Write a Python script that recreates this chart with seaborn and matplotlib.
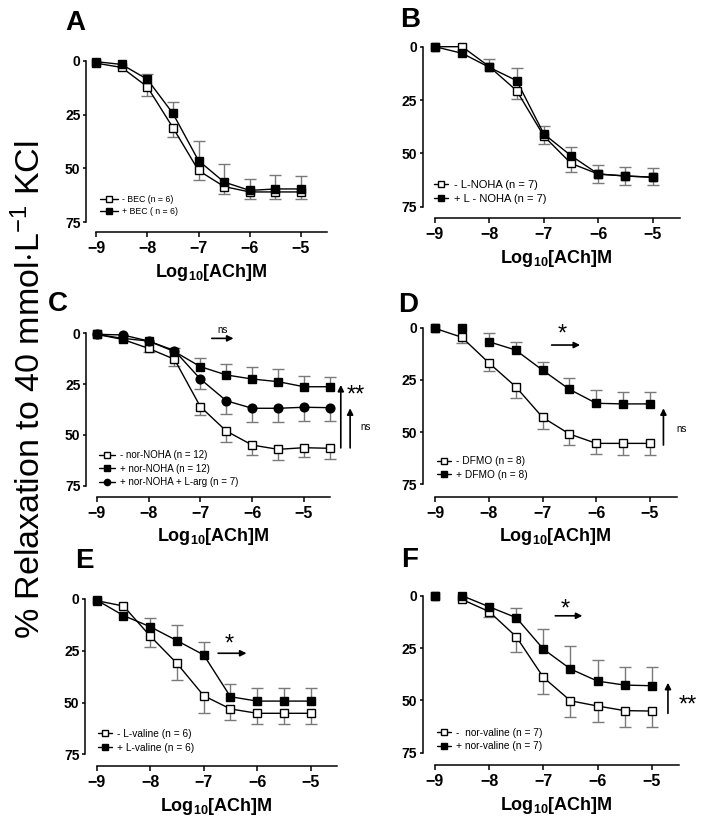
import matplotlib
matplotlib.use("Agg")
import matplotlib.pyplot as plt
from matplotlib.lines import Line2D
import numpy as np
import seaborn as sns

# log10 [ACh] (M)
conc = [-9, -8.5, -8, -7.5, -7, -6.5, -6, -5.5, -5]
conc_c = [-9, -8.5, -8, -7.5, -7, -6.5, -6, -5.5, -5, -4.5]

# panel A
a_ctrl = [1, 3, 12, 31, 51, 58.5, 61, 61, 61]
a_ctrl_sem = [0, 0, 4.5, 4.3, 4.6, 3.5, 3.5, 3.1, 3.1]
a_bec = [0.3, 1.6, 8.5, 24.4, 46.4, 56.4, 60.3, 59.6, 59.6]
a_bec_sem = [0, 0, 2.5, 5.4, 9.3, 8.3, 5.3, 6.4, 6.1]

# panel B
b_ctrl = [0, 0, 9.4, 20.6, 41.9, 54.7, 59.7, 60.6, 61.2]
b_ctrl_sem = [0, 0, 0, 4, 3.7, 4, 4, 4, 3.6]
b_noha = [0, 3.1, 9.7, 15.9, 40.9, 51.1, 59.7, 60.6, 61.2]
b_noha_sem = [0, 0, 4.1, 6.1, 3.7, 4.2, 4.4, 4.3, 4.5]

# panel C
c_ctrl = [0.5, 3, 7.4, 12.8, 36.1, 48.1, 55, 57.1, 56.3, 56.6]
c_ctrl_sem = [0, 0, 2, 3.3, 4.1, 5.2, 4.9, 5.3, 4.4, 5.3]
c_nor = [0.5, 2.5, 3.8, 9, 16.4, 20.5, 22.5, 23.8, 26.3, 26.3]
c_nor_sem = [0, 0, 0, 2, 4.1, 5.2, 5.8, 6.1, 5.5, 5]
c_larg = [0.5, 0.8, 3.8, 8.5, 22.5, 33.2, 36.9, 36.9, 36.4, 36.6]
c_larg_sem = [0, 0, 0, 0, 5.1, 6.5, 6.9, 6.9, 6.7, 6.5]

# panel D
d_ctrl = [0.3, 4.6, 16.8, 28.2, 42.9, 50.9, 55.4, 55.4, 55.4]
d_ctrl_sem = [0, 2.9, 3.8, 5.6, 5.7, 5.2, 5.1, 5.6, 5.6]
d_dfmo = [0, 0, 6.7, 10.7, 20.3, 29.5, 36.2, 36.5, 36.5]
d_dfmo_sem = [0, 0, 4, 4, 4, 5.2, 6.4, 5.9, 5.9]

# panel E
e_ctrl = [0.8, 3.4, 17.9, 31.1, 46.7, 53.1, 55.2, 55.2, 55.2]
e_ctrl_sem = [0, 0, 5.4, 8, 8.2, 5.3, 5.2, 5.2, 5.2]
e_val = [0.5, 8, 13.4, 20.1, 27, 47.2, 49.3, 49.3, 49.3]
e_val_sem = [0, 0, 4.4, 7.5, 6.4, 6.2, 6.2, 6.2, 6.2]

# panel F
f_ctrl = [0, 1.8, 7.6, 19.6, 39, 50.2, 52.7, 54.9, 55.1]
f_ctrl_sem = [0, 0, 2.4, 7.2, 8, 7.6, 7.5, 8, 7.5]
f_nv = [0, 0, 5.3, 10.5, 25.5, 35, 40.8, 42.7, 43]
f_nv_sem = [0, 0, 0, 4.8, 9.4, 11, 10.1, 8.8, 8.8]

sns.set_style("ticks")
plt.rcParams['font.family'] = ['Liberation Sans', 'DejaVu Sans']
plt.rcParams['mathtext.fontset'] = 'custom'
plt.rcParams['mathtext.rm'] = 'Liberation Sans'
plt.rcParams['mathtext.it'] = 'Liberation Sans:italic'
plt.rcParams['mathtext.bf'] = 'Liberation Sans:bold'
for k in ['text.color', 'axes.labelcolor', 'xtick.color', 'ytick.color', 'axes.edgecolor']:
    plt.rcParams[k] = 'black'

W, H = 701, 821
fig = plt.figure(figsize=(W / 100, H / 100), dpi=100)


def make_ax(yspine, xm9, xm5, y0, y75, xax):
    ppx = (xm5 - xm9) / 4
    ppy = (y75 - y0) / 75
    xl = -9 - (xm9 - yspine) / ppx
    xr = -4.3
    right_px = xm9 + (xr + 9) * ppx
    yt = -5
    top_px = y0 + yt * ppy
    yb = 75 + (xax - y75) / ppy
    ax = fig.add_axes([yspine / W, 1 - xax / H, (right_px - yspine) / W, (xax - top_px) / H])
    ax.set_xlim(xl, xr)
    ax.set_ylim(yb, yt)
    for s in ['top', 'right']:
        ax.spines[s].set_visible(False)
    ax.spines['left'].set_bounds(0, 75)
    ax.spines['bottom'].set_bounds(-9, -4.5)
    for s in ['left', 'bottom']:
        ax.spines[s].set_linewidth(1.1)
        ax.spines[s].set_color('k')
    ax.set_yticks([0, 25, 50, 75])
    ax.set_xticks([-9, -8, -7, -6, -5])
    ax.tick_params(axis='y', length=2.5, width=1.1, pad=1.5, labelsize=10, colors='k')
    ax.tick_params(axis='x', length=3.5, width=1.1, pad=3, labelsize=11.5, colors='k')
    for lab in ax.get_xticklabels() + ax.get_yticklabels():
        lab.set_fontweight('bold')
    ax.set_xlabel(r'Log$_{\mathbf{10}}$[ACh]M', fontsize=13, fontweight='bold',
                  labelpad=4, color='k')
    return ax


def series(ax, x, y, sem, marker, face, down, start=0, ms=6):
    x = np.asarray(x, float)
    y = np.asarray(y, float)
    sem = np.asarray(sem, float)
    m = sem > 0
    zeros = np.zeros(m.sum())
    yerr = [zeros, sem[m]] if down else [sem[m], zeros]
    eb = ax.errorbar(x[m], y[m], yerr=yerr, fmt='none', ecolor='#7a7a7a',
                     elinewidth=1, capsize=4.2, capthick=1, zorder=1)
    eb[1][0 if down else 1].set_visible(False)
    sns.lineplot(x=x[start:], y=y[start:], ax=ax, color='k', lw=1, zorder=2,
                 legend=False, estimator=None)
    ax.plot(x, y, ls='none', marker=marker, ms=ms, mfc=face, mec='k', mew=1, zorder=3)
    ax.set_ylabel('')
    return Line2D([], [], color='k', lw=1, marker=marker, ms=4.5, mfc=face, mec='k', mew=1)


def legend(ax, handles, labels, x, y, fs, hl):
    ax.legend(handles, labels, loc='upper left', bbox_to_anchor=(x, y),
              bbox_transform=ax.transData, frameon=False, fontsize=fs,
              handlelength=hl, handletextpad=0.5, labelspacing=0.35, borderpad=0,
              borderaxespad=0)


def harrow(ax, x0, x1, y):
    ax.annotate('', xy=(x1, y), xytext=(x0, y), annotation_clip=False,
                arrowprops=dict(arrowstyle='-|>', color='k', lw=1.2, mutation_scale=9,
                                shrinkA=0, shrinkB=0))


def varrow(ax, x, y0, y1):
    ax.annotate('', xy=(x, y1), xytext=(x, y0), annotation_clip=False,
                arrowprops=dict(arrowstyle='-|>', color='k', lw=1.2, mutation_scale=9,
                                shrinkA=0, shrinkB=0))


def star(ax, x, y, s, fs=17):
    ax.text(x, y, s, fontsize=fs, ha='center', va='center', clip_on=False)


# A
ax = make_ax(86, 96, 301, 61, 222, 232)
h1 = series(ax, conc, a_ctrl, a_ctrl_sem, 's', 'white', True)
h2 = series(ax, conc, a_bec, a_bec_sem, 's', 'k', False)
legend(ax, [h1, h2], ['- BEC (n = 6)', '+ BEC ( n = 6)'], -8.92, 62.5, 6.3, 2.0)

# B
ax = make_ax(422.7, 435, 652.7, 46.7, 206.7, 218.3)
h1 = series(ax, conc, b_ctrl, b_ctrl_sem, 's', 'white', True)
h2 = series(ax, conc, b_noha, b_noha_sem, 's', 'k', False)
legend(ax, [h1, h2], ['- L-NOHA (n = 7)', '+ L - NOHA (n = 7)'], -9.02, 62.5, 8, 1.3)

# C
ax = make_ax(86, 96.7, 304, 333.3, 485.7, 496.7)
h1 = series(ax, conc_c, c_ctrl, c_ctrl_sem, 's', 'white', True)
h3 = series(ax, conc_c, c_larg, c_larg_sem, 'o', 'k', True, ms=6.3)
h2 = series(ax, conc_c, c_nor, c_nor_sem, 's', 'k', False)
legend(ax, [h1, h2, h3], ['- nor-NOHA (n = 12)', '+ nor-NOHA (n = 12)',
                          '+ nor-NOHA + L-arg (n = 7)'], -8.95, 57.5, 7, 1.6)
harrow(ax, -6.78, -6.36, 2.5)
ax.text(-6.58, 0.8, 'ns', fontsize=7, ha='center', va='bottom', clip_on=False)
varrow(ax, -4.29, 56.4, 25.4)
star(ax, -4.0, 30.5, '**')
varrow(ax, -4.11, 56.4, 36.9)
ax.text(-3.82, 45.9, 'ns', fontsize=7, ha='center', va='center', clip_on=False)

# D
ax = make_ax(422.7, 435, 650, 327.7, 484.3, 496.7)
h1 = series(ax, conc, d_ctrl, d_ctrl_sem, 's', 'white', True)
h2 = series(ax, conc, d_dfmo, d_dfmo_sem, 's', 'k', False, start=2)
legend(ax, [h1, h2], ['- DFMO (n = 8)', '+ DFMO (n = 8)'], -8.97, 61.5, 7.3, 1.4)
harrow(ax, -6.83, -6.30, 8.3)
star(ax, -6.64, 3.5, '*')
varrow(ax, -4.75, 56.2, 38.6)
ax.text(-4.41, 48.5, 'ns', fontsize=7, ha='center', va='center', clip_on=False)

# E
ax = make_ax(85, 96.7, 310.7, 599, 754.3, 766)
h1 = series(ax, conc, e_ctrl, e_ctrl_sem, 's', 'white', True)
h2 = series(ax, conc, e_val, e_val_sem, 's', 'k', False)
legend(ax, [h1, h2], ['- L-valine (n = 6)', '+ L-valine (n = 6)'], -8.98, 62.8, 7.3, 1.4)
harrow(ax, -6.73, -6.2, 26.2)
star(ax, -6.52, 22, '*')

# F
ax = make_ax(422.7, 435, 651.7, 595.7, 752.7, 765)
h1 = series(ax, conc, f_ctrl, f_ctrl_sem, 's', 'white', True, start=1)
h2 = series(ax, conc, f_nv, f_nv_sem, 's', 'k', False, start=1)
legend(ax, [h1, h2], ['-  nor-valine (n = 7)', '+ nor-valine (n = 7)'], -8.97, 63, 7.3, 1.4)
harrow(ax, -6.78, -6.28, 9.6)
star(ax, -6.6, 6.5, '*')
varrow(ax, -4.70, 56.2, 41.6)
star(ax, -4.33, 52.5, '**')

# panel letters
for lab, x, y in [('A', 65, 30), ('B', 400, 27), ('C', 48, 311),
                  ('D', 398, 312), ('E', 75, 568), ('F', 401, 567)]:
    fig.text(x / W, 1 - y / H, lab, fontsize=20, fontweight='bold', va='baseline')

fig.text(30 / W, 1 - 390 / H, r'% Relaxation to 40 mmol$\cdot$L$^{-1}$ KCl',
         fontsize=24.5, rotation=90, ha='center', va='center')

fig.savefig('out.png', dpi=100)
